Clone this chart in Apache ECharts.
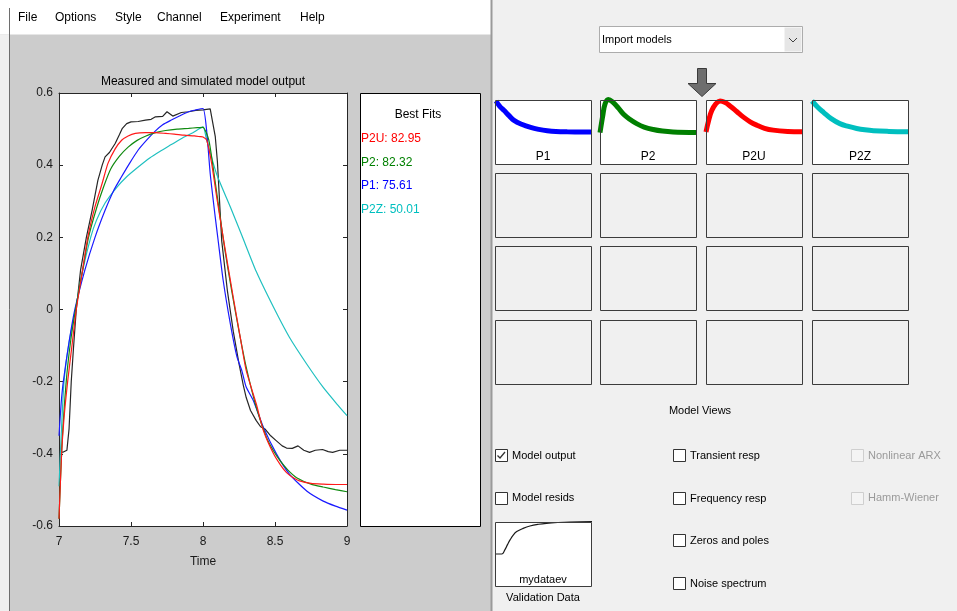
<!DOCTYPE html>
<html>
<head>
<meta charset="utf-8">
<script src="https://cdn.jsdelivr.net/npm/echarts@6/dist/echarts.min.js"></script>
<style>
  html, body { margin: 0; padding: 0; background: #f0f0f0; }
  #chart { width: 957px; height: 611px; }
</style>
</head>
<body>
<div id="chart"></div>
<script>
// measured output (black)
var measuredT = [7.0, 7.03, 7.055, 7.07, 7.085, 7.1, 7.12, 7.15, 7.19, 7.23, 7.27, 7.3, 7.32, 7.35, 7.39, 7.42, 7.44, 7.47, 7.5, 7.55, 7.6, 7.64, 7.67, 7.72, 7.75, 7.79, 7.85, 7.9, 7.95, 8.0, 8.05, 8.06, 8.085, 8.1, 8.13, 8.17, 8.21, 8.25, 8.28, 8.3, 8.33, 8.37, 8.4, 8.43, 8.47, 8.51, 8.55, 8.58, 8.62, 8.66, 8.7, 8.74, 8.78, 8.83, 8.87, 8.9, 8.95, 9.0];
var measuredY = [-0.395, -0.395, -0.39, -0.33, -0.2, -0.11, 0, 0.11, 0.2, 0.275, 0.358, 0.40, 0.423, 0.435, 0.46, 0.485, 0.502, 0.515, 0.52, 0.521, 0.525, 0.527, 0.534, 0.535, 0.548, 0.536, 0.546, 0.548, 0.552, 0.553, 0.556, 0.555, 0.48, 0.41, 0.19, 0.05, -0.06, -0.15, -0.21, -0.244, -0.28, -0.308, -0.325, -0.331, -0.35, -0.364, -0.378, -0.384, -0.385, -0.378, -0.39, -0.396, -0.39, -0.388, -0.394, -0.396, -0.39, -0.39];

// P2U (red)
var p2uT = [7.0, 7.018, 7.035, 7.06, 7.09, 7.12, 7.16, 7.2, 7.25, 7.3, 7.34, 7.39, 7.435, 7.48, 7.53, 7.6, 7.67, 7.74, 7.8, 7.87, 7.94, 7.98, 8.0, 8.025, 8.06, 8.095, 8.14, 8.21, 8.26, 8.3, 8.37, 8.42, 8.49, 8.54, 8.58, 8.63, 8.67, 8.75, 8.835, 8.92, 9.0];
var p2uY = [-0.58, -0.4, -0.3, -0.2, -0.1, 0, 0.1, 0.2, 0.285, 0.35, 0.405, 0.445, 0.469, 0.481, 0.488, 0.49, 0.49, 0.488, 0.486, 0.483, 0.481, 0.479, 0.478, 0.47, 0.405, 0.312, 0.2, 0.034, -0.08, -0.169, -0.262, -0.336, -0.40, -0.432, -0.452, -0.467, -0.475, -0.482, -0.484, -0.485, -0.485];

// P2 (green)
var p2T = [7.0, 7.02, 7.05, 7.08, 7.115, 7.16, 7.205, 7.26, 7.31, 7.36, 7.42, 7.48, 7.54, 7.6, 7.67, 7.74, 7.82, 7.9, 7.96, 8.0, 8.04, 8.07, 8.1, 8.15, 8.2, 8.25, 8.3, 8.37, 8.44, 8.49, 8.535, 8.59, 8.65, 8.75, 8.835, 8.92, 9.0];
var p2Y = [-0.58, -0.38, -0.2, -0.09, 0, 0.1, 0.2, 0.28, 0.34, 0.39, 0.425, 0.45, 0.468, 0.48, 0.49, 0.496, 0.5, 0.502, 0.504, 0.505, 0.47, 0.395, 0.31, 0.17, 0.05, -0.06, -0.16, -0.271, -0.354, -0.392, -0.419, -0.445, -0.466, -0.484, -0.492, -0.499, -0.505];

// P1 (blue)
var p1T = [7.0, 7.015, 7.03, 7.07, 7.11, 7.18, 7.25, 7.32, 7.38, 7.43, 7.49, 7.55, 7.61, 7.67, 7.72, 7.78, 7.84, 7.9, 7.95, 8.0, 8.025, 8.05, 8.085, 8.105, 8.14, 8.19, 8.235, 8.27, 8.3, 8.35, 8.42, 8.51, 8.6, 8.72, 8.835, 8.92, 9.0];
var p1Y = [-0.35, -0.26, -0.2, -0.09, 0, 0.11, 0.2, 0.275, 0.33, 0.365, 0.405, 0.442, 0.47, 0.495, 0.512, 0.525, 0.537, 0.548, 0.553, 0.557, 0.497, 0.377, 0.256, 0.192, 0.081, -0.04, -0.13, -0.17, -0.215, -0.253, -0.327, -0.40, -0.456, -0.503, -0.531, -0.545, -0.556];

// P2Z (cyan)
var p2zT = [7.0, 7.015, 7.035, 7.07, 7.115, 7.16, 7.22, 7.26, 7.32, 7.4, 7.47, 7.55, 7.63, 7.7, 7.78, 7.86, 7.93, 8.0, 8.025, 8.095, 8.19, 8.27, 8.37, 8.49, 8.6, 8.72, 8.835, 8.93, 9.0];
var p2zY = [-0.49, -0.35, -0.2, -0.09, 0, 0.1, 0.2, 0.247, 0.295, 0.338, 0.368, 0.395, 0.42, 0.438, 0.457, 0.476, 0.49, 0.506, 0.47, 0.375, 0.284, 0.205, 0.105, 0.006, -0.077, -0.151, -0.216, -0.262, -0.294];

var fitNames = ['P2U: 82.95', 'P2: 82.32', 'P1: 75.61', 'P2Z: 50.01'];
var fitColors = ['#ff0000', '#008000', '#0000ff', '#00bfbf'];

// thumbnails in the model board (x as fraction of box width, y normalised)
var thumbX_P1 = [0, 0.04, 0.086, 0.14, 0.19, 0.27, 0.365, 0.45, 0.54, 0.63, 0.75, 1];
var thumbY_P1 = [1, 0.83, 0.69, 0.52, 0.375, 0.25, 0.147, 0.085, 0.04, 0.015, 0.005, 0];
var thumbX_P2 = [0, 0.03, 0.052, 0.086, 0.139, 0.19, 0.243, 0.31, 0.382, 0.46, 0.555, 0.65, 0.76, 1];
var thumbY_P2 = [-0.02, 0.55, 0.9, 1.05, 0.95, 0.78, 0.58, 0.41, 0.27, 0.16, 0.08, 0.03, 0.0, -0.02];
var thumbX_P2U = [0, 0.03, 0.06, 0.1, 0.146, 0.2, 0.25, 0.32, 0.39, 0.46, 0.53, 0.61, 0.7, 0.85, 1];
var thumbY_P2U = [0.0, 0.4, 0.69, 0.9, 1.0, 0.95, 0.84, 0.66, 0.48, 0.33, 0.22, 0.12, 0.06, 0.02, 0.01];
var thumbX_P2Z = [0, 0.06, 0.12, 0.2, 0.29, 0.38, 0.465, 0.55, 0.64, 0.8, 1];
var thumbY_P2Z = [1, 0.8, 0.635, 0.43, 0.27, 0.18, 0.115, 0.07, 0.04, 0.02, 0.01];
var thumbX_val = [0, 0.018, 0.07, 0.1, 0.13, 0.155, 0.19, 0.224, 0.29, 0.36, 0.45, 0.53, 0.65, 0.77, 1];
var thumbY_val = [0, 0, 0, 0.12, 0.3, 0.44, 0.6, 0.7, 0.8, 0.875, 0.93, 0.96, 0.985, 1.0, 1.01];

var menuItems = ['File', 'Options', 'Style', 'Channel', 'Experiment', 'Help'];
var menuX = [18, 55, 115, 157, 220, 300];

var FONT = '"Liberation Sans", Arial, sans-serif';

function pairs(xs, ys) {
  return xs.map(function (x, i) { return [x, ys[i]]; });
}

function txt(x, y, s, size, color, align) {
  return {
    type: 'text', x: x, y: y, z: 20,
    style: {
      text: s, font: size + 'px ' + FONT, fill: color || '#000',
      textAlign: align || 'left', textVerticalAlign: 'middle',
      align: align || 'left', verticalAlign: 'middle'
    }
  };
}

function box(x, y, w, h, fill, stroke, z) {
  return {
    type: 'rect', z: z, shape: { x: x + 0.5, y: y + 0.5, width: w, height: h },
    style: { fill: fill, stroke: stroke, lineWidth: 1 }
  };
}

function checkbox(x, y, checked, disabled) {
  var els = [box(x, y, 12, 12, disabled ? '#f4f4f4' : '#fff', disabled ? '#cfcfcf' : '#333', 15)];
  if (checked) {
    els.push({
      type: 'polyline', z: 16,
      shape: { points: [[x + 2.5, y + 6.5], [x + 5, y + 9], [x + 10, y + 3]] },
      style: { stroke: '#333', lineWidth: 1.3, fill: null }
    });
  }
  return els;
}

// ---------- static window chrome ----------
var graphics = [];
// left (plot window) background
graphics.push(box(-1, -1, 492, 613, '#cccccc', null, -20));
graphics.push(box(-1, -1, 492, 35, '#ffffff', null, -19));
graphics.push(box(-1, 34, 10, 578, '#f0f0f0', null, -19));
graphics.push({ type: 'line', z: -18, shape: { x1: 9.5, y1: 8, x2: 9.5, y2: 611 }, style: { stroke: '#6e6e6e', lineWidth: 1 } });
// right (model board) background
graphics.push(box(491, -1, 467, 613, '#f0f0f0', null, -20));
graphics.push({ type: 'line', z: -18, shape: { x1: 491.5, y1: 0, x2: 491.5, y2: 611 }, style: { stroke: '#9a9a9a', lineWidth: 2 } });

menuItems.forEach(function (m, i) { graphics.push(txt(menuX[i], 18, m, 12, '#000')); });

// plot title and best fits panel
graphics.push(txt(203, 82, 'Measured and simulated model output', 12, '#000', 'center'));
graphics.push(box(360, 93, 120, 433, '#ffffff', '#000', -5));
graphics.push(txt(418, 115, 'Best Fits', 12, '#000', 'center'));
fitNames.forEach(function (f, i) { graphics.push(txt(361, 139 + i * 23.5, f, 12, fitColors[i])); });

// import dropdown + arrow
graphics.push(box(599, 26, 203, 26, '#ffffff', '#acacac', 5));
graphics.push(box(784, 27, 17, 24, '#e6e6e6', null, 6));
graphics.push({ type: 'polyline', z: 7, shape: { points: [[789, 38], [793, 42], [797, 38]] }, style: { stroke: '#404040', lineWidth: 1, fill: null } });
graphics.push(txt(602, 40, 'Import models', 11, '#000'));
graphics.push({
  type: 'polygon', z: 5,
  shape: { points: [[697.5, 68.5], [706.5, 68.5], [706.5, 83.5], [716, 83.5], [702, 96.5], [688, 83.5], [697.5, 83.5]] },
  style: { fill: '#6e6e6e', stroke: '#3a3a3a', lineWidth: 1 }
});

// model board boxes
var colX = [495, 600, 706, 812];
var rowY = [100, 173, 246, 320];
rowY.forEach(function (ry, r) {
  colX.forEach(function (cx) {
    if (r === 0) graphics.push(box(cx, ry, 96, 64, '#ffffff', null, -5));
    graphics.push(box(cx, ry, 96, 64, 'transparent', '#3c3c3c', 10));
  });
});
['P1', 'P2', 'P2U', 'P2Z'].forEach(function (n, i) { graphics.push(txt(colX[i] + 48, 157, n, 12, '#000', 'center')); });

graphics.push(txt(700, 411, 'Model Views', 11, '#000', 'center'));

// check boxes
graphics = graphics.concat(checkbox(495, 449, true, false));
graphics.push(txt(512, 456, 'Model output', 11, '#000'));
graphics = graphics.concat(checkbox(495, 492, false, false));
graphics.push(txt(512, 498, 'Model resids', 11, '#000'));
var col2Labels = ['Transient resp', 'Frequency resp', 'Zeros and poles', 'Noise spectrum'];
var col2Y = [449, 492, 534, 577];
col2Labels.forEach(function (l, i) {
  graphics = graphics.concat(checkbox(673, col2Y[i], false, false));
  graphics.push(txt(690, col2Y[i] + 7, l, 11, '#000'));
});
graphics = graphics.concat(checkbox(851, 449, false, true));
graphics.push(txt(868, 456, 'Nonlinear ARX', 11, '#9a9a9a'));
graphics = graphics.concat(checkbox(851, 492, false, true));
graphics.push(txt(868, 498, 'Hamm-Wiener', 11, '#9a9a9a'));

// validation data icon
graphics.push(box(495, 522, 96, 64, '#ffffff', null, -5));
graphics.push(box(495, 522, 96, 64, 'transparent', '#3c3c3c', 10));
graphics.push(txt(543, 580, 'mydataev', 11, '#000', 'center'));
graphics.push(txt(543, 598, 'Validation Data', 11, '#000', 'center'));

// ---------- axes ----------
var grids = [{ left: 59, top: 93, width: 288, height: 433, show: true, backgroundColor: '#ffffff', borderWidth: 0 }];
var xAxes = [], yAxes = [];
var tickStyle = { show: true, inside: true, length: 4, lineStyle: { color: '#262626' } };
var lineStyleAx = { show: true, onZero: false, lineStyle: { color: '#262626', width: 1 } };
xAxes.push({
  gridIndex: 0, type: 'value', min: 7, max: 9, interval: 0.5, position: 'bottom',
  axisLine: lineStyleAx, axisTick: tickStyle, splitLine: { show: false },
  axisLabel: { color: '#1a1a1a', fontSize: 12, fontFamily: FONT, margin: 10 },
  name: 'Time', nameLocation: 'middle', nameGap: 30,
  nameTextStyle: { color: '#1a1a1a', fontSize: 12, fontFamily: FONT }
});
xAxes.push({
  gridIndex: 0, type: 'value', min: 7, max: 9, interval: 0.5, position: 'top',
  axisLine: lineStyleAx, axisTick: tickStyle, splitLine: { show: false }, axisLabel: { show: false }
});
yAxes.push({
  gridIndex: 0, type: 'value', min: -0.6, max: 0.6, interval: 0.2, position: 'left',
  axisLine: lineStyleAx, axisTick: tickStyle, splitLine: { show: false },
  axisLabel: { color: '#1a1a1a', fontSize: 12, fontFamily: FONT, margin: 6 }
});
yAxes.push({
  gridIndex: 0, type: 'value', min: -0.6, max: 0.6, interval: 0.2, position: 'right',
  axisLine: lineStyleAx, axisTick: tickStyle, splitLine: { show: false }, axisLabel: { show: false }
});

var series = [];
function mainLine(name, xs, ys, color, smooth) {
  series.push({
    name: name, type: 'line', xAxisIndex: 0, yAxisIndex: 0,
    data: pairs(xs, ys), symbol: 'none', smooth: smooth,
    lineStyle: { color: color, width: 1.2 }, z: 3
  });
}
mainLine('measured', measuredT, measuredY, '#262626', false);
mainLine('P2Z', p2zT, p2zY, '#20c0c0', 0.2);
mainLine('P1', p1T, p1Y, '#1a1aff', 0.2);
mainLine('P2', p2T, p2Y, '#108a10', 0.2);
mainLine('P2U', p2uT, p2uY, '#ff1a1a', 0.2);

// thumbnail grids
function thumb(left, top, w, h, xs, ys, color, width) {
  var gi = grids.length;
  grids.push({ left: left, top: top, width: w, height: h, show: false });
  var xi = xAxes.length, yi = yAxes.length;
  xAxes.push({ gridIndex: gi, type: 'value', min: 0, max: 1, show: false });
  yAxes.push({ gridIndex: gi, type: 'value', min: 0, max: 1, show: false });
  series.push({
    type: 'line', xAxisIndex: xi, yAxisIndex: yi, data: pairs(xs, ys), symbol: 'none',
    smooth: 0.4, clip: false, silent: true,
    lineStyle: { color: color, width: width, cap: 'butt' }, z: 4
  });
}
thumb(496, 101, 95, 31, thumbX_P1, thumbY_P1, '#0000ff', 5);
thumb(600, 101, 96, 31, thumbX_P2, thumbY_P2, '#007f00', 5);
thumb(706, 101, 96, 31, thumbX_P2U, thumbY_P2U, '#ff0000', 5);
thumb(812, 101, 96, 31, thumbX_P2Z, thumbY_P2Z, '#00bfbf', 5);
thumb(495, 522, 97, 32, thumbX_val, thumbY_val, '#1a1a1a', 1.2);

var chart = echarts.init(document.getElementById('chart'));
chart.setOption({
  animation: false,
  backgroundColor: '#f0f0f0',
  grid: grids,
  xAxis: xAxes,
  yAxis: yAxes,
  series: series,
  graphic: { elements: graphics }
});
window.addEventListener('resize', function () { chart.resize(); });
</script>
</body>
</html>
